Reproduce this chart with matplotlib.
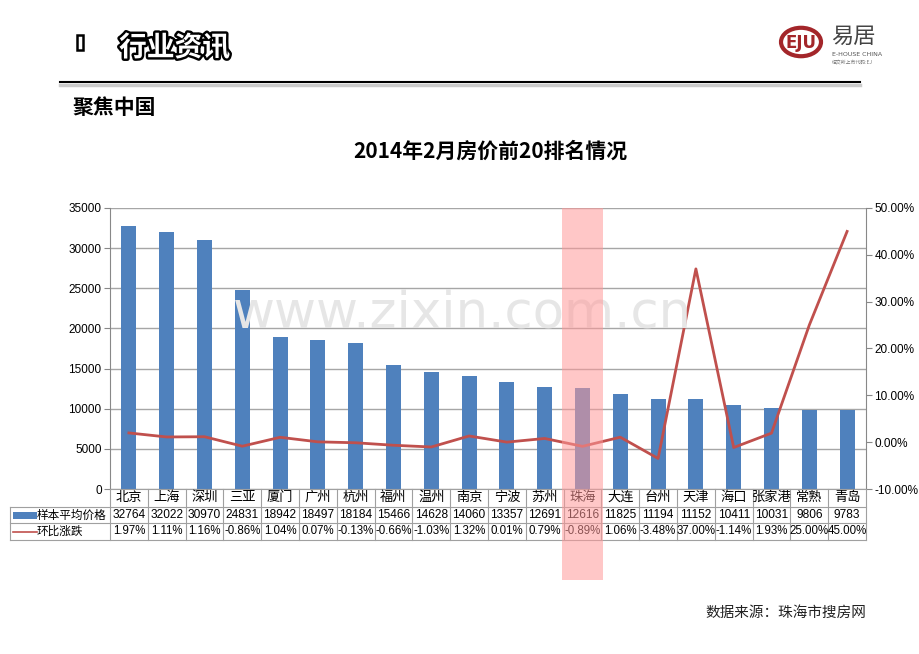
import matplotlib
matplotlib.use("Agg")
import matplotlib.pyplot as plt
import matplotlib.patheffects as pe
from matplotlib.patches import Circle, Rectangle
from matplotlib.lines import Line2D
import matplotlib.transforms as mtransforms
import numpy as np

plt.rcParams['font.family'] = ['Noto Sans CJK SC', 'DejaVu Sans']

cities = ["北京", "上海", "深圳", "三亚", "厦门", "广州", "杭州", "福州", "温州", "南京",
          "宁波", "苏州", "珠海", "大连", "台州", "天津", "海口", "张家港", "常熟", "青岛"]
prices = [32764, 32022, 30970, 24831, 18942, 18497, 18184, 15466, 14628, 14060,
          13357, 12691, 12616, 11825, 11194, 11152, 10411, 10031, 9806, 9783]
changes = [1.97, 1.11, 1.16, -0.86, 1.04, 0.07, -0.13, -0.66, -1.03, 1.32,
           0.01, 0.79, -0.89, 1.06, -3.48, 37.00, -1.14, 1.93, 25.00, 45.00]
left_ticks = [0, 5000, 10000, 15000, 20000, 25000, 30000, 35000]
right_ticks = [-10, 0, 10, 20, 30, 40, 50]
highlight = "珠海"
series_names = ["样本平均价格", "环比涨跌"]

W, H = 920, 654
fig = plt.figure(figsize=(W / 100, H / 100), dpi=100)

def fx(px):
    return px / W

def fy(py):
    return 1 - py / H

# plot area
x0, x1, ytop, ybot = 110, 866, 208, 489
ax = fig.add_axes([fx(x0), fy(ybot), fx(x1 - x0), (ybot - ytop) / H])
n = len(cities)
xs = np.arange(n)
ax.set_xlim(-0.5, n - 0.5)
ax.set_ylim(0, 35000)
blue = "#4F81BD"
red = "#C0504D"
ax.bar(xs, prices, width=0.4, color=blue, zorder=3)
ax.set_yticks(left_ticks)
ax.set_yticklabels([str(v) for v in left_ticks], fontsize=8.5, family='Liberation Sans')
ax.yaxis.grid(True, color="#A6A6A6", linewidth=1, zorder=0)
ax.set_xticks([])
for s in ["top", "right", "bottom"]:
    ax.spines[s].set_visible(False)
ax.spines["left"].set_color("#888888")
ax.tick_params(axis='y', length=4, color="#888888", pad=2)

ax2 = ax.twinx()
ax2.set_ylim(-10, 50)
ax2.plot(xs, changes, color=red, linewidth=2, zorder=4)
ax2.set_yticks(right_ticks)
ax2.set_yticklabels([f"{v:.2f}%" for v in right_ticks], fontsize=8.5, family='Liberation Sans')
for s in ["top", "left", "bottom"]:
    ax2.spines[s].set_visible(False)
ax2.spines["right"].set_color("#888888")
ax2.tick_params(axis='y', length=4, color="#888888", pad=2)
ax2.set_xlim(-0.5, n - 0.5)

# highlight band for 珠海
hi = cities.index(highlight)
trans = mtransforms.blended_transform_factory(ax.transData, fig.transFigure)
band = Rectangle((hi - 0.54, fy(580)), 1.08, (580 - ytop) / H, transform=trans,
                 facecolor="#FF9999", alpha=0.55, edgecolor="none", zorder=5)
fig.add_artist(band)

# watermark
fig.text(fx(462), fy(314), "www.zixin.com.cn", fontsize=37, color="#E6E6E6",
         ha="center", va="center", family="DejaVu Sans", zorder=0)

# table
tcol = "#A0A0A0"
for yy in (507, 523, 540):
    fig.add_artist(Line2D([fx(10), fx(x1)], [fy(yy), fy(yy)], color=tcol, lw=0.8))
fig.add_artist(Line2D([fx(x0), fx(x1)], [fy(489), fy(489)], color=tcol, lw=0.8))
fig.add_artist(Line2D([fx(10), fx(10)], [fy(507), fy(540)], color=tcol, lw=0.8))
for i in range(n + 1):
    fig.add_artist(Line2D([i - 0.5, i - 0.5], [fy(489), fy(540)], color=tcol, lw=0.8,
                          transform=trans))
for i, c in enumerate(cities):
    fig.text(i, fy(497.5), c, transform=trans, ha="center", va="center", fontsize=9.5)
    fig.text(i, fy(515), str(prices[i]), transform=trans, ha="center", va="center",
             fontsize=8.6, family="Liberation Sans")
    fig.text(i, fy(531.5), f"{changes[i]:.2f}%", transform=trans, ha="center",
             va="center", fontsize=8.3, family="Liberation Sans")
# legend keys in table
fig.add_artist(Rectangle((fx(13), fy(518.5)), fx(24), 7 / H, facecolor=blue, edgecolor="none"))
fig.add_artist(Line2D([fx(13), fx(37)], [fy(531.5), fy(531.5)], color=red, lw=1.2))
fig.text(fx(37), fy(515), series_names[0], ha="left", va="center", fontsize=8.4)
fig.text(fx(37), fy(531.5), series_names[1], ha="left", va="center", fontsize=8.4)

# title
fig.text(fx(490), fy(151), "2014年2月房价前20排名情况", ha="center", va="center",
         fontsize=15, fontweight="bold")

# header
fig.add_artist(Rectangle((fx(77), fy(50)), fx(6), 15 / H, facecolor="white",
                         edgecolor="black", lw=1.8))
fig.text(fx(119), fy(48), "行业资讯", ha="left", va="center", fontsize=20, fontweight="bold",
         color="white", path_effects=[pe.withStroke(linewidth=3.5, foreground="black")])
fig.add_artist(Line2D([fx(60), fx(860)], [fy(84.5), fy(84.5)], color="#CCCCCC", lw=2.5))
fig.add_artist(Line2D([fx(60), fx(860)], [fy(82), fy(82)], color="black", lw=1.5))
fig.text(fx(72), fy(108), "聚焦中国", ha="left", va="center", fontsize=15, fontweight="bold")

# logo
logo_red = "#A3262A"
circ = Circle((fx(801), fy(42)), 20 / W, transform=fig.transFigure, facecolor="white",
              edgecolor=logo_red, lw=3)
fig.add_artist(circ)
fig.text(fx(801), fy(43), "EJU", ha="center", va="center", fontsize=12, fontweight="bold",
         color=logo_red, family="DejaVu Sans")
fig.text(fx(831), fy(36), "易居", ha="left", va="center", fontsize=16, color="#444444")
fig.text(fx(832), fy(54), "E-HOUSE CHINA", ha="left", va="center", fontsize=4.5, color="#555555",
         family="DejaVu Sans")
fig.text(fx(832), fy(62), "纽交所上市代码:EJ", ha="left", va="center", fontsize=3.5, color="#777777")

# source
fig.text(fx(866), fy(613), "数据来源：珠海市搜房网", ha="right", va="center", fontsize=10.5,
         color="#222222")

fig.savefig("out.png", dpi=100)
